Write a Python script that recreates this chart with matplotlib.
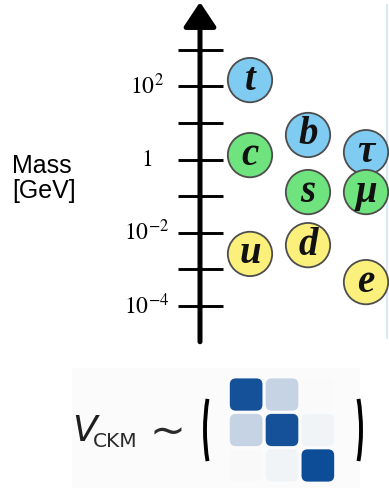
import numpy as np
import matplotlib.pyplot as plt
from matplotlib.patches import Arc, FancyBboxPatch, Rectangle

plt.rcParams['mathtext.fontset'] = 'stix'

# particle masses (log10 GeV) and their column
particles = ['t', 'c', 'u', 'b', 's', 'd', 'τ', 'μ', 'e']
log_mass = [2.17, 0.12, -2.58, 0.67, -0.89, -2.34, 0.20, -0.89, -3.35]
column = [0, 0, 0, 1, 1, 1, 2, 2, 2]
family = ['blue', 'green', 'yellow', 'blue', 'green', 'yellow', 'blue', 'green', 'yellow']
fill = {'blue': '#7fcbf1', 'green': '#6fe47e', 'yellow': '#fbf07b'}

decades = [3, 2, 1, 0, -1, -2, -3, -4]
labelled = {2: r'$10^{2}$', 0: r'$1$', -2: r'$10^{-2}$', -4: r'$10^{-4}$'}

# |V_CKM| magnitudes
ckm = [[0.974, 0.225, 0.004],
       [0.225, 0.973, 0.041],
       [0.009, 0.040, 0.999]]

W, H = 389, 491
fig = plt.figure(figsize=(W / 100, H / 100), dpi=100)

# overlay in pixel units for the labels and the brackets
ov = fig.add_axes([0, 0, 1, 1])
ov.set_xlim(0, W)
ov.set_ylim(H, 0)
ov.axis('off')

ov.add_patch(Rectangle((72, 368), 288, 120, color='#fbfbfb', lw=0, zorder=0))
ov.plot([387, 387], [5, 338], color='#d5e5fa', lw=1.3)

ov.text(12, 173, 'Mass', fontsize=18, family='Liberation Sans', va='baseline')
ov.text(12, 198, '[GeV]', fontsize=18, family='Liberation Sans', va='baseline')

ov.text(72, 441, 'V', fontsize=26, style='italic', family='DejaVu Sans',
        color='#1e1e1e', va='baseline')
ov.text(93, 447, 'CKM', fontsize=14.5, family='DejaVu Sans', color='#2a2a2a',
        va='baseline')
ov.text(150, 444, '~', fontsize=31, family='DejaVu Sans', color='#2a2a2a',
        va='baseline')

ov.add_patch(Arc((237, 430), 64, 160, theta1=133.5, theta2=226.5, lw=2.8, color='k'))
ov.add_patch(Arc((329, 430), 64, 160, theta1=-46.5, theta2=46.5, lw=2.8, color='k'))

# mass scale, 36.6 px per decade, 1 GeV at y = 159.5 px
ax = fig.add_axes([0, 0, 1, 1])
ax.set_facecolor('none')
ax.set_yscale('log')
ax.set_xlim(0, W)
ax.set_ylim(10 ** (-(H - 159.5) / 36.6), 10 ** (159.5 / 36.6))
ax.axis('off')

x_axis = 200
ax.annotate('', xy=(x_axis, 10 ** 4.30), xytext=(x_axis, 10 ** -4.98),
            arrowprops=dict(arrowstyle='-|>,head_length=0.75,head_width=0.5',
                            mutation_scale=20, lw=3.6, color='k',
                            shrinkA=0, shrinkB=0))
ax.hlines([10.0 ** d for d in decades], 178, 223, color='k', lw=2.1)
for d, lab in labelled.items():
    ax.text(147, 10.0 ** d, lab, fontsize=17, ha='center', va='center')

col_x = [250, 308, 366]
xs = [col_x[c] for c in column]
ys = [10.0 ** m for m in log_mass]
ax.scatter(xs, ys, s=1020, c=[fill[f] for f in family], edgecolors='#4d4d4d',
           linewidths=1.3, zorder=3)
for name, x, y in zip(particles, xs, ys):
    ax.text(x, y, name, fontsize=28, style='italic', weight='bold',
            family='Liberation Serif', ha='center', va='center',
            color='#111111', zorder=4)

# CKM matrix as rounded squares, shade = magnitude
mx = fig.add_axes([228.2 / W, (H - 483.2) / H, 107.6 / W, 106.4 / H])
mx.set_xlim(0, 3)
mx.set_ylim(3, 0)
mx.axis('off')
for i in range(3):
    for j in range(3):
        mx.add_patch(FancyBboxPatch((j + 0.045, i + 0.045), 0.91, 0.91,
                                    boxstyle='round,pad=0,rounding_size=0.17',
                                    fc='#0d4c96', alpha=ckm[i][j], ec='none'))

fig.savefig('out.png', dpi=100)
